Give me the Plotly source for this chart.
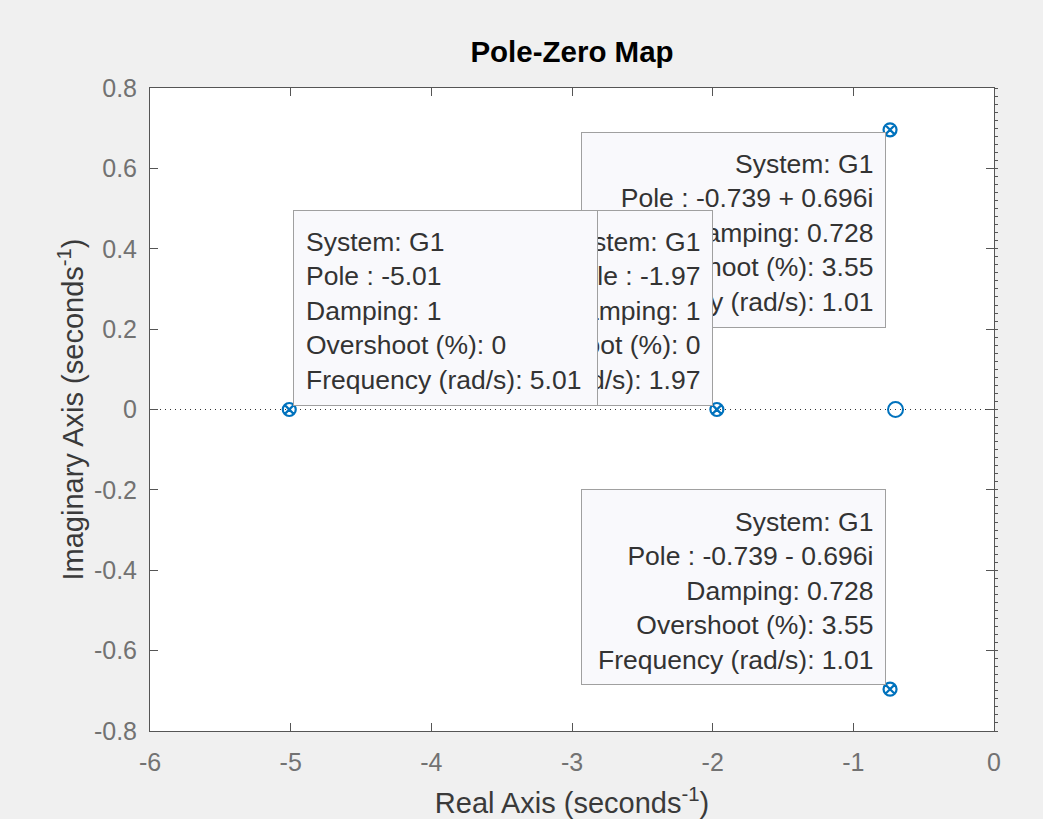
import plotly.graph_objects as go

# ---------------- data ----------------
pole_re = [-5.01, -1.97, -0.739, -0.739]
pole_im = [0.0, 0.0, 0.696, -0.696]
zero_re = [-0.70]
zero_im = [0.0]

tip_system = ["G1", "G1", "G1", "G1"]
tip_pole_text = ["-5.01", "-1.97", "-0.739 + 0.696i", "-0.739 - 0.696i"]
tip_damping = ["1", "1", "0.728", "0.728"]
tip_overshoot = ["0", "0", "3.55", "3.55"]
tip_frequency = ["5.01", "1.97", "1.01", "1.01"]
tip_side_x = ["right", "left", "left", "left"]
tip_side_y = ["up", "up", "down", "up"]
tip_draw_order = [3, 2, 1, 0]

x_range = [-6, 0]
y_range = [-0.8, 0.8]
x_ticks = [-6, -5, -4, -3, -2, -1, 0]
x_tick_labels = ["-6", "-5", "-4", "-3", "-2", "-1", "0"]
y_ticks = [-0.8, -0.6, -0.4, -0.2, 0, 0.2, 0.4, 0.6, 0.8]
y_tick_labels = ["-0.8", "-0.6", "-0.4", "-0.2", "0", "0.2", "0.4", "0.6", "0.8"]

# ---------------- style ----------------
BLUE = "#0072BD"
AXIS_COL = "#555555"
FAMILY = "Liberation Sans, Arial, sans-serif"
TICK_FONT = dict(family=FAMILY, size=25, color="#727272")
LABEL_FONT = dict(family=FAMILY, size=29, color="#3a3a3a")
TIP_FONT = dict(family=FAMILY, size=26.5, color="#333333")
GAP_UP = 4
GAP_DOWN = 2
GAP_X = 4
BOX_W = 305
BOX_H = 196
TEXT_INSET = 13
TEXT_DROP = 3.5

fig = go.Figure()

# dotted real axis line
fig.add_trace(go.Scatter(
    x=x_range, y=[0, 0], mode="lines",
    line=dict(color="#333333", width=1, dash="1px,4px"),
    hoverinfo="skip", yaxis="y",
))

# zeros
fig.add_trace(go.Scatter(
    x=zero_re, y=zero_im, mode="markers", yaxis="y2",
    marker=dict(symbol="circle-open", size=15, color=BLUE, line=dict(width=2, color=BLUE)),
    name="Zeros",
))
# poles
fig.add_trace(go.Scatter(
    x=pole_re, y=pole_im, mode="markers", yaxis="y2",
    marker=dict(symbol="circle-x-open", size=13, color=BLUE, line=dict(width=2.2, color=BLUE)),
    name="Poles",
))

# data tips (box first, then its text, so later tips cover earlier ones)
for i in tip_draw_order:
    lines = [
        f"System: {tip_system[i]}",
        f"Pole : {tip_pole_text[i]}",
        f"Damping: {tip_damping[i]}",
        f"Overshoot (%): {tip_overshoot[i]}",
        f"Frequency (rad/s): {tip_frequency[i]}",
    ]
    right = tip_side_x[i] == "right"
    up = tip_side_y[i] == "up"
    x_anchor = "left" if right else "right"
    box_shift_y = GAP_UP if up else -GAP_DOWN
    center_shift_y = (GAP_UP + BOX_H / 2) if up else -(GAP_DOWN + BOX_H / 2)
    # box
    fig.add_annotation(
        x=pole_re[i], y=pole_im[i], xref="x", yref="y",
        text=" ", showarrow=False,
        xanchor=x_anchor, yanchor="bottom" if up else "top",
        xshift=GAP_X if right else -GAP_X, yshift=box_shift_y,
        width=BOX_W - 2, height=BOX_H - 2,
        bgcolor="#f9f9fc", bordercolor="#a0a0a0", borderwidth=1, borderpad=0,
        font=TIP_FONT,
    )
    # text
    fig.add_annotation(
        x=pole_re[i], y=pole_im[i], xref="x", yref="y",
        text="<br>".join(lines), showarrow=False,
        align="left" if right else "right",
        xanchor=x_anchor, yanchor="middle",
        xshift=(GAP_X + TEXT_INSET) if right else -(GAP_X + TEXT_INSET),
        yshift=center_shift_y - TEXT_DROP,
        borderpad=0, borderwidth=0,
        font=TIP_FONT,
    )

axis_common = dict(
    showline=True, linecolor=AXIS_COL, linewidth=1, mirror="ticks",
    ticks="inside", ticklen=8, tickcolor=AXIS_COL, tickwidth=1,
    showgrid=False, zeroline=False, tickfont=TICK_FONT, automargin=False,
)

fig.update_layout(
    width=1043, height=819,
    paper_bgcolor="#f0f0f0", plot_bgcolor="white",
    margin=dict(l=150, r=49, t=88, b=88, pad=0),
    showlegend=False,
    title=dict(
        text="<b>Pole-Zero Map</b>",
        font=dict(family=FAMILY, size=29.5, color="#000000"),
        x=0.5, xref="paper", xanchor="center",
        y=1 - 52 / 819, yref="container", yanchor="middle",
    ),
    xaxis=dict(
        range=x_range, tickvals=x_ticks, ticktext=x_tick_labels,
        ticklabelstandoff=9,
        title=dict(text="Real Axis (seconds<sup>-1</sup>)", font=LABEL_FONT, standoff=17),
        **axis_common,
    ),
    yaxis=dict(
        range=y_range, tickvals=y_ticks, ticktext=y_tick_labels,
        ticklabelstandoff=7,
        title=dict(text="Imaginary Axis (seconds<sup>-1</sup>)", font=LABEL_FONT, standoff=1),
        **axis_common,
    ),
    yaxis2=dict(
        overlaying="y", side="right", range=y_range,
        showticklabels=False, ticks="outside", tick0=0, dtick=0.02,
        ticklen=3, tickcolor=AXIS_COL, tickwidth=1,
        showline=False, showgrid=False, zeroline=False, automargin=False,
    ),
)

fig.write_html("out.html")
